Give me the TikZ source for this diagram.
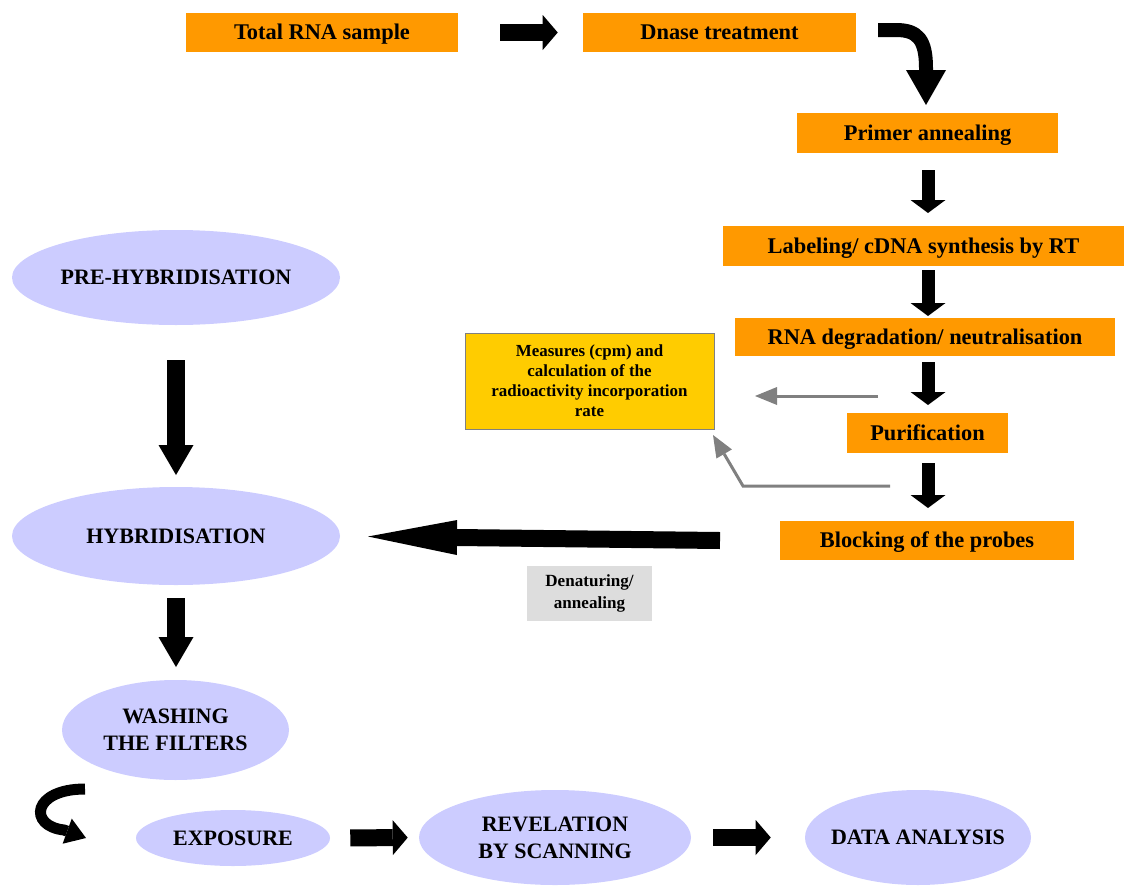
\documentclass[tikz,border=0pt]{standalone}
\usepackage{fontspec}
\setmainfont{Liberation Serif}
\usetikzlibrary{shapes.geometric,arrows.meta}
\definecolor{orangebox}{HTML}{FF9900}
\definecolor{yellowbox}{HTML}{FFCC00}
\definecolor{lav}{HTML}{CCCCFF}
\definecolor{graybox}{HTML}{DDDDDD}
\definecolor{grayline}{HTML}{808080}
\begin{document}
\begin{tikzpicture}[x=0.75pt,y=-0.75pt,
  obox/.style={fill=orangebox, inner sep=0pt, text height=11pt, text depth=0pt, font=\bfseries\fontsize{16.8}{20}\selectfont},
  ell/.style={ellipse, fill=lav, inner ysep=0pt, inner xsep=-20pt, align=center, font=\bfseries\fontsize{16.5}{20}\selectfont},
  ybox/.style={fill=yellowbox, draw=grayline, line width=0.75pt, inner sep=0pt, align=center, font=\bfseries\fontsize{12.7}{15}\selectfont},
  gbox/.style={fill=graybox, inner sep=0pt, align=center, font=\bfseries\fontsize{12.8}{16.5}\selectfont},
  blkR/.style={line width=12.75pt, -{Triangle[width=26.25pt,length=11.25pt,line width=0pt]}},
  blkDs/.style={line width=9.75pt, -{Triangle[width=26.25pt,length=9.75pt,line width=0pt]}},
  blkDl/.style={line width=13.5pt, -{Triangle[width=26.25pt,length=22.5pt,line width=0pt]}},
  blkL/.style={line width=12.75pt, -{Triangle[width=26.25pt,length=66.75pt,line width=0pt]}},
  curv/.style={line width=10.5pt, -{Triangle[width=30pt,length=26.25pt,line width=0pt]}},
  curvs/.style={line width=8.25pt, -{Triangle[width=20pt,length=15pt,line width=0pt]}},
  garr/.style={draw=grayline, line width=2.25pt, -{Triangle[width=13.5pt,length=16.5pt,line width=0pt]}, color=grayline}
]
\useasboundingbox (0,0) rectangle (1124,885);

% orange boxes
\node[obox, minimum width=204pt, minimum height=29.25pt] (rna) at (322,32.5) {Total RNA sample};
\node[obox, minimum width=204.75pt, minimum height=29.25pt] (dn) at (719.5,32.5) {Dnase treatment};
\node[obox, minimum width=195.75pt, minimum height=30pt] (pa) at (927.5,133) {Primer annealing};
\node[obox, minimum width=300.75pt, minimum height=30pt] (lab) at (923.5,246) {Labeling/ cDNA synthesis by RT};
\node[obox, minimum width=285pt, minimum height=28.5pt] (deg) at (925,337) {RNA degradation/ neutralisation};
\node[obox, minimum width=120.75pt, minimum height=30pt] (pur) at (927.5,433) {Purification};
\node[obox, minimum width=220.5pt, minimum height=29.25pt] (blk) at (927,540.5) {Blocking of the probes};

% yellow and gray boxes
\node[ybox, minimum width=186.75pt, minimum height=72pt] (meas) at (589.5,381)
  {Measures (cpm) and\\calculation of the\\radioactivity incorporation\\rate};
\node[gbox, minimum width=93.75pt, minimum height=41.25pt] (den) at (589.5,593.5) {Denaturing/\\annealing};

% ellipses
\node[ell, minimum width=246pt, minimum height=71.25pt] (pre) at (176,277.5) {PRE-HYBRIDISATION};
\node[ell, minimum width=246pt, minimum height=73.5pt] (hyb) at (176,536) {HYBRIDISATION};
\node[ell, minimum width=170.25pt, minimum height=75pt] (wash) at (175.5,730) {WASHING\\THE FILTERS};
\node[ell, minimum width=145.5pt, minimum height=42pt] (exp) at (233,838) {EXPOSURE};
\node[ell, minimum width=204pt, minimum height=71.25pt] (rev) at (555,837.5) {REVELATION\\BY SCANNING};
\node[ell, minimum width=169.5pt, minimum height=71.25pt] (data) at (918,837.5) {DATA ANALYSIS};

% black block arrows
\draw[blkR, shorten <=31.5pt, shorten >=18.75pt] (rna.east) -- (dn.west);
\coordinate (c1) at (878,30);
\coordinate (c2) at (926,105);
\draw[curv] (c1) -- (896,30) .. controls (918,30) and (926,40) .. (926,68) -- (c2);
\draw[blkDs, shorten <=12.75pt, shorten >=9.75pt] (pa.south -| 928,0) -- (928,226);
\draw[blkDs, shorten <=3pt, shorten >=1.5pt] (928,266) -- (928,318);
\draw[blkDs, shorten <=4.5pt, shorten >=6pt] (928,356) -- (928,413);
\draw[blkDs, shorten <=7.5pt, shorten >=9.75pt] (928,453) -- (928,521);
\draw[blkL] (blk.west -| 720,0) -- (368,536.5);
\draw[blkDl] (pre.south -| 176,0) ++(0,35) -- (176,475);
\draw[blkDl] (176,598) -- (176,667);
\coordinate (c3) at (85,789);
\coordinate (c4) at (86,838);
\draw[curvs] (c3) .. controls (32,789) and (28,826) .. (64,830) -- (c4);
\draw[blkR, shorten <=15pt, shorten >=8.25pt] (exp.east) -- (rev.west);
\draw[blkR, shorten <=16.5pt, shorten >=25.5pt] (rev.east) -- (data.west);

% gray arrows
\coordinate (g1) at (878,396);
\coordinate (g1e) at (755,396);
\draw[garr] (g1) -- (g1e);
\coordinate (g2) at (890,486);
\coordinate (g2m) at (743,486);
\coordinate (g2e) at (713,435);
\draw[garr] (g2) -- (g2m) -- (g2e);
\end{tikzpicture}
\end{document}
